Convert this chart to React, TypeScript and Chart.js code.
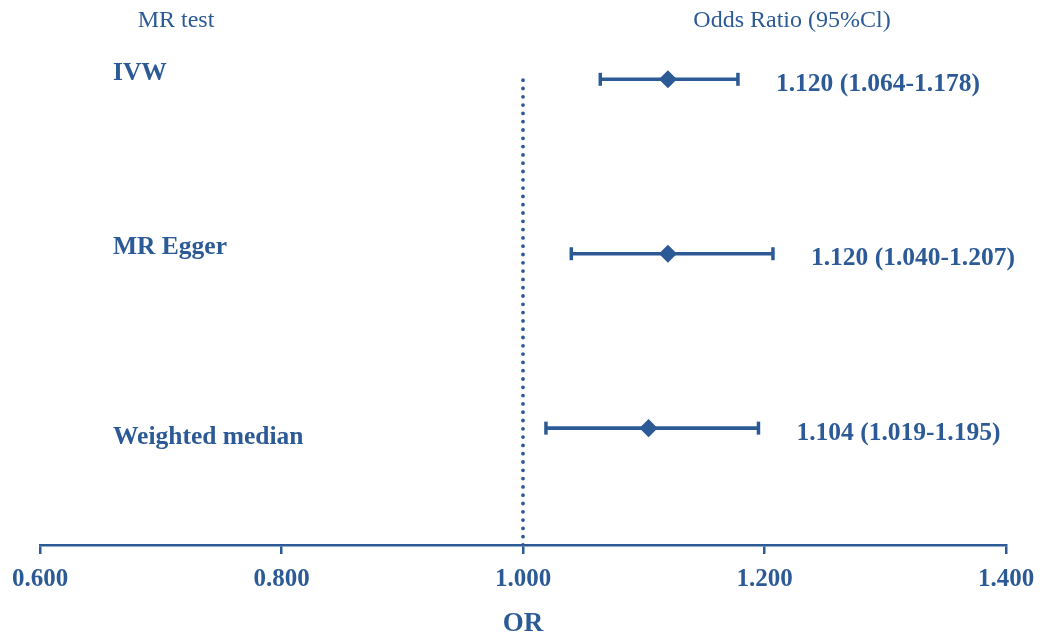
import React, { useEffect, useRef } from "react";
import { Chart, registerables } from "chart.js";

Chart.register(...registerables);

const methods = ["IVW", "MR Egger", "Weighted median"];
const orValues = [1.12, 1.12, 1.104];
const ciLower = [1.064, 1.04, 1.019];
const ciUpper = [1.178, 1.207, 1.195];
const rowPositions = [3, 2, 1];
const valueLabels = ["1.120 (1.064-1.178)", "1.120 (1.040-1.207)", "1.104 (1.019-1.195)"];
const xTicks = [0.6, 0.8, 1.0, 1.2, 1.4];
const nullValue = 1.0;

const BLUE = "#2C5A96";
const FONT = "'Liberation Serif', 'Times New Roman', serif";
const labelYOffsets = [-6, -6, 9];

const textPlugin = {
  id: "forestText",
  afterDatasetsDraw(chart: any) {
    const { ctx, scales } = chart;
    const xs = scales.x;
    const ys = scales.y;
    ctx.save();
    ctx.fillStyle = BLUE;
    ctx.textBaseline = "middle";
    // headers
    ctx.font = `24px ${FONT}`;
    ctx.textAlign = "center";
    ctx.fillText("MR test", 176, 21);
    ctx.fillText("Odds Ratio (95%Cl)", 792, 21);
    // row labels and values
    ctx.font = `bold 25.5px ${FONT}`;
    methods.forEach((m, i) => {
      const y = ys.getPixelForValue(rowPositions[i]);
      ctx.textAlign = "left";
      ctx.fillText(m, 113, y + labelYOffsets[i]);
      ctx.fillText(valueLabels[i], xs.getPixelForValue(ciUpper[i]) + 38, y + 5);
    });
    // axis title
    ctx.font = `bold 27px ${FONT}`;
    ctx.textAlign = "center";
    ctx.fillText("OR", xs.getPixelForValue(nullValue), 624);
    ctx.restore();
  },
};

export default function App() {
  const ref = useRef<HTMLCanvasElement>(null);
  useEffect(() => {
    document.body.style.margin = "0";
    const datasets: any[] = [];
    datasets.push({
      type: "line",
      data: [
        { x: nullValue, y: 0.33 },
        { x: nullValue, y: 3.03 },
      ],
      borderColor: BLUE,
      borderWidth: 3.8,
      borderDash: [0, 8.3],
      borderCapStyle: "round",
      pointRadius: 0,
    });
    methods.forEach((m, i) => {
      datasets.push({
        type: "line",
        label: m,
        data: [
          { x: ciLower[i], y: rowPositions[i] },
          { x: ciUpper[i], y: rowPositions[i] },
        ],
        borderColor: BLUE,
        borderWidth: 3.6,
        pointStyle: "line",
        rotation: 90,
        pointRadius: 6.5,
        pointBorderWidth: 3.5,
        pointBorderColor: BLUE,
        pointBackgroundColor: BLUE,
      });
    });
    datasets.push({
      type: "scatter",
      data: orValues.map((v, i) => ({ x: v, y: rowPositions[i] })),
      pointStyle: "rectRot",
      pointRadius: 8,
      pointBorderWidth: 1.5,
      pointBackgroundColor: BLUE,
      pointBorderColor: BLUE,
    });
    const chart = new Chart(ref.current!, {
      type: "scatter",
      data: { datasets },
      plugins: [textPlugin],
      options: {
        animation: false,
        responsive: false,
        events: [],
        layout: { padding: { left: 40, right: 34, top: 20, bottom: 0 } },
        plugins: { legend: { display: false }, tooltip: { enabled: false } },
        scales: {
          x: {
            type: "linear",
            min: 0.6,
            max: 1.4,
            afterBuildTicks: (s: any) => {
              s.ticks = xTicks.map((v) => ({ value: v }));
            },
            afterFit: (s: any) => {
              s.height = 92;
              s.paddingLeft = 0;
              s.paddingRight = 0;
            },
            grid: {
              drawOnChartArea: false,
              color: BLUE,
              lineWidth: 2.5,
              tickLength: 9,
            },
            border: { display: true, color: BLUE, width: 2.5 },
            ticks: {
              color: BLUE,
              font: { family: FONT, size: 25, weight: "bold" },
              padding: 11,
              maxRotation: 0,
              callback: (v: any) => Number(v).toFixed(3),
            },
          },
          y: {
            type: "linear",
            display: false,
            min: 0.33,
            max: 3.34,
          },
        },
      },
    });
    return () => chart.destroy();
  }, []);
  return (
    <div style={{ width: 1040, height: 637, background: "#fff" }}>
      <canvas ref={ref} width={1040} height={637} style={{ display: "block" }} />
    </div>
  );
}
